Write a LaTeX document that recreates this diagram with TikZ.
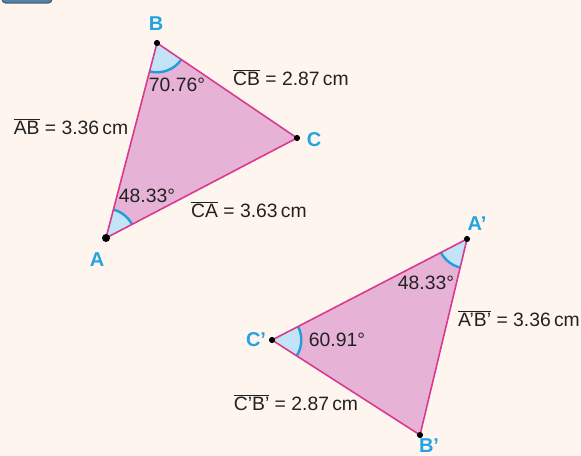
\documentclass[tikz,border=0pt]{standalone}
\usepackage{fontspec}
\setmainfont{Liberation Sans}
\usetikzlibrary{angles,positioning}
\definecolor{paper}{HTML}{FDF5EE}
\definecolor{trifill}{HTML}{E6B3D7}
\definecolor{triedge}{HTML}{D93A8F}
\definecolor{angfill}{HTML}{C2E4F6}
\definecolor{angedge}{HTML}{1E9EDF}
\definecolor{vtxblue}{HTML}{22A3E2}
\definecolor{inkgray}{HTML}{222222}
\definecolor{tabfill}{HTML}{4A86BA}
\newcommand{\seg}[1]{$\overline{\hbox{#1}}$}

\begin{document}
\begin{tikzpicture}[
  x=0.75pt, y=-0.75pt,
  tri/.style={fill=trifill},
  edge/.style={draw=triedge, line width=1.2pt, line join=round},
  wedge/.style={draw=angedge, line width=1.8pt, fill=angfill, angle radius=22pt},
  vlab/.style={font=\fontsize{15}{15}\selectfont\bfseries, text=vtxblue, inner sep=0pt},
  meas/.style={font=\fontsize{14.5}{14.5}\selectfont, text=inkgray, inner sep=0pt}
]

%=== PAGE ===
\useasboundingbox (0,0) rectangle (581,456);
\fill[paper] (0,0) rectangle (581,456);
\begin{scope}
  \clip (0,0) rectangle (581,456);
  \draw[draw=black!65, fill=tabfill, line width=1pt, rounded corners=3pt] (2,-20) rectangle (52,3);
\end{scope}

%=== VERTICES ===
\coordinate (A)  at (106,238);
\coordinate (B)  at (157,43);
\coordinate (C)  at (297,138);
\coordinate (Ap) at (467,239);
\coordinate (Bp) at (420,435);
\coordinate (Cp) at (272,340);

%=== TRIANGLE ABC ===
\fill[tri] (A) -- (B) -- (C) -- cycle;
\pic[wedge] {angle = A--B--C};
\pic[wedge] {angle = C--A--B};
\draw[edge] (A) -- (B) -- (C) -- cycle;

%=== TRIANGLE A'B'C' ===
\fill[tri] (Ap) -- (Bp) -- (Cp) -- cycle;
\pic[wedge] {angle = Cp--Ap--Bp};
\pic[wedge] {angle = Bp--Cp--Ap};
\draw[edge] (Ap) -- (Bp) -- (Cp) -- cycle;

%=== POINTS ===
\fill (A) circle (3pt);
\foreach \v in {B,C,Ap,Bp,Cp}
  \fill (\v) circle (2.3pt);

%=== VERTEX LABELS ===
\node[vlab] (labA)  at (97,260)  {A};
\node[vlab] (labB)  at (156,24)  {B};
\node[vlab] (labC)  at (314,140) {C};
\node[vlab] (labAp) at (477,224) {A'};
\node[vlab] (labBp) at (429,446) {B'};
\node[vlab] (labCp) at (256,340) {C'};

%=== MEASURES ===
\node[meas] (angB)   at (177,85)  {70.76°};
\node[meas] (angA)   at (147,196) {48.33°};
\node[meas] (angAp)  at (426,283) {48.33°};
\node[meas] (angCp)  at (337,340) {60.91°};
\node[meas] (lenCB)  at (291,78)  {\seg{CB} = 2.87\,cm};
\node[meas] (lenAB)  at (71,127)  {\seg{AB} = 3.36\,cm};
\node[meas] (lenCA)  at (249,210) {\seg{CA} = 3.63\,cm};
\node[meas] (lenApBp) at (519,319) {\seg{A'B'} = 3.36\,cm};
\node[meas] (lenCpBp) at (296,403) {\seg{C'B'} = 2.87\,cm};

\end{tikzpicture}
\end{document}
